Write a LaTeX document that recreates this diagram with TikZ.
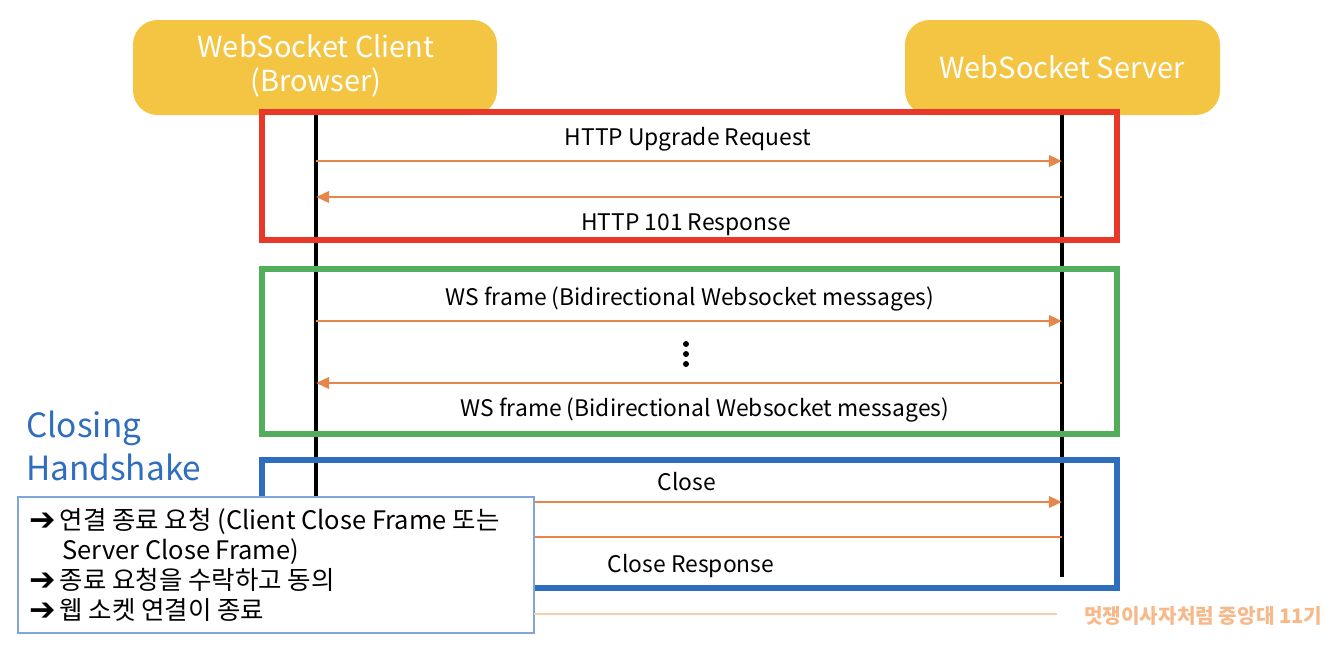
\documentclass[tikz,border=0pt]{standalone}
\usepackage{fontspec}
\setmainfont{Noto Sans CJK KR}
\newfontfamily\arrowfont{DejaVu Sans}
\usetikzlibrary{arrows.meta}
\definecolor{actorfill}{HTML}{F4C542}
\definecolor{msgline}{HTML}{E5874A}
\definecolor{phasered}{HTML}{E8382A}
\definecolor{phasegreen}{HTML}{52AE5A}
\definecolor{phaseblue}{HTML}{2F6EBF}
\definecolor{noteborder}{HTML}{7FA6D8}
\definecolor{footcol}{HTML}{F7B98A}
\newcommand{\ar}{\raisebox{-0.5pt}{\arrowfont\bfseries\fontsize{18pt}{18pt}\selectfont ➔}\hspace{0.15em}}
\tikzset{
  actor/.style={fill=actorfill, rounded corners=14pt},
  actorlabel/.style={text=white, align=center, font=\fontsize{16.5pt}{19.5pt}\selectfont},
  lifeline/.style={line width=2.3pt, black},
  phase/.style={line width=3.4pt},
  msg/.style={draw=msgline, line width=1.5pt, -{Triangle[length=7.5pt,width=6.5pt]}},
  msglabel/.style={font=\fontsize{13pt}{15pt}\selectfont, text=black},
  note/.style={draw=noteborder, line width=0.9pt, fill=white},
}
\begin{document}
\begin{tikzpicture}[x=0.02cm, y=-0.02cm]
\useasboundingbox (0,0) rectangle (1340,654);

% participants
\path[actor] (133,20) rectangle (497,115);
\node[actorlabel] (client) at (316,66) {WebSocket Client\\(Browser)};
\path[actor] (905,20) rectangle (1220,115);
\node[actorlabel] (server) at (1062,67) {WebSocket Server};

% lifelines
\coordinate (ctop) at (316,115);
\coordinate (cbot) at (316,600);
\coordinate (stop) at (1062,115);
\coordinate (sbot) at (1062,577);
\draw[lifeline] (ctop) -- (cbot);
\draw[lifeline] (stop) -- (sbot);

% phase frames
\draw[phase, phasered] (262,112) rectangle (1117,240);
\draw[phase, phasegreen] (262,269) rectangle (1117,434);
\draw[phase, phaseblue] (262,460) rectangle (1117,588);

% messages
\foreach \n/\y in {a/161,b/197,c/321,d/383,e/502,f/537}{
  \coordinate (c\n) at (316,\y);
  \coordinate (s\n) at (1062,\y);
}
\draw[msg] (ca) -- (sa);
\draw[msg] (sb) -- (cb);
\draw[msg] (cc) -- (sc);
\draw[msg] (sd) -- (cd);
\draw[msg] (ce) -- (se);
\draw[msg] (sf) -- (cf);

\node[msglabel] (la) at (688,139) {HTTP Upgrade Request};
\node[msglabel] (lb) at (686,225) {HTTP 101 Response};
\node[msglabel] (lc) at (690,299) {WS frame (Bidirectional Websocket messages)};
\node[msglabel] (ld) at (705,410) {WS frame (Bidirectional Websocket messages)};
\node[msglabel] (le) at (687,482) {Close};
\node[msglabel] (lf) at (691,566) {Close Response};

% ellipsis dots
\foreach \y in {344,354,364} \fill (686,\y) circle (1.7pt);

% closing handshake title
\node[anchor=west, text=phaseblue, align=left, font=\fontsize{19pt}{24pt}\selectfont]
  (title) at (20,446) {Closing\\Handshake};

% explanation note
\draw[note] (18,497) rectangle (534,633);
\node[anchor=north west, align=left, font=\fontsize{14.5pt}{17pt}\selectfont, inner sep=0pt]
  (notetext) at (29,508) {\ar 연결 종료 요청 (Client Close Frame 또는\\
  \hspace{1.3em}Server Close Frame)\\
  \ar 종료 요청을 수락하고 동의\\
  \ar 웹 소켓 연결이 종료};

% footer
\coordinate (fl) at (534,614);
\coordinate (fr) at (1057,614);
\draw[footcol!70, line width=0.8pt] (fl) -- (fr);
\node[anchor=west, text=footcol, font=\bfseries\fontsize{11.5pt}{14pt}\selectfont]
  (footer) at (1078,616) {멋쟁이사자처럼 중앙대 11기};
\end{tikzpicture}
\end{document}
